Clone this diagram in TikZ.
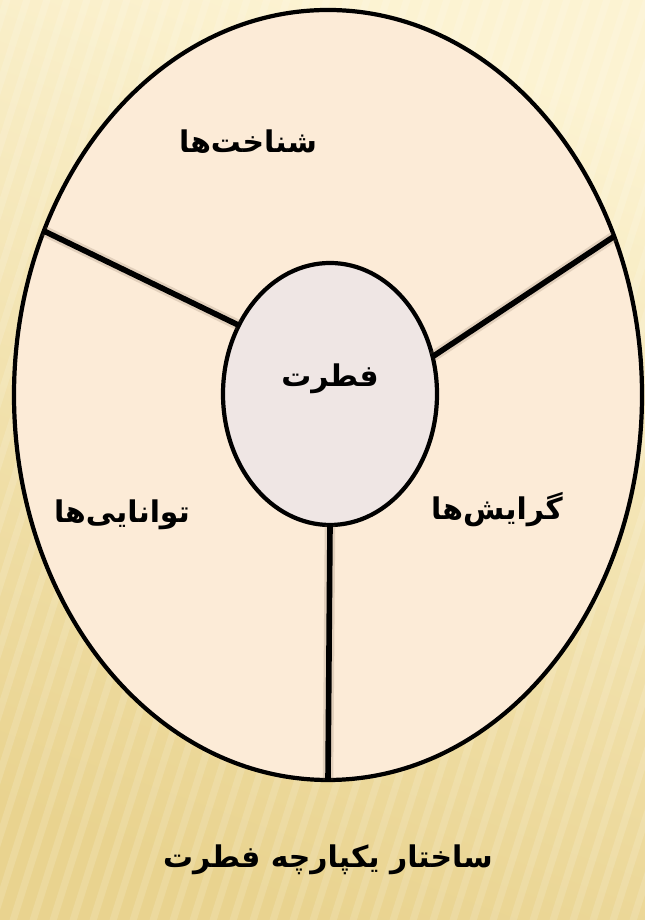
\documentclass[tikz,border=0pt]{standalone}
\usepackage{fontspec}
\newfontfamily\farsi[Script=Arabic]{DejaVu Sans}
\TeXXeTstate=1
\usetikzlibrary{shapes.geometric}

\definecolor{bgtop}{HTML}{FCF3D2}
\definecolor{bgbottom}{HTML}{E9D38F}
\definecolor{wholefill}{HTML}{FCEBD7}
\definecolor{corefill}{HTML}{EFE6E4}
\definecolor{shadowcol}{HTML}{7A6550}

\tikzset{
  farsitext/.style={font=\farsi\bfseries\fontsize{17}{21}\selectfont},
  ring/.style={ellipse, draw, line width=2.4pt, inner sep=0pt, outer sep=0pt},
  spoke/.style={line width=3.2pt},
  spokeshadow/.style={line width=6pt, shadowcol, opacity=0.2}
}

\begin{document}
\begin{tikzpicture}
\useasboundingbox (0,0) rectangle (12.88,18.4);
% background
\shade[top color=bgtop, bottom color=bgbottom, shading angle=-20] (-0.2,-0.2) rectangle (13.1,18.6);
\begin{scope}
\clip (-0.2,-0.2) rectangle (13.1,18.6);
\foreach \x in {-7,-6.6,...,13.4}
  \draw[white, opacity=0.14, line width=4pt] (\x,-0.2) -- ++(6,18.8);
\end{scope}

\node[ring, fill=wholefill, minimum width=12.56cm, minimum height=15.4cm] (whole) at (6.56,10.5) {};
\node[ring, fill=corefill, minimum width=4.28cm, minimum height=5.24cm] (core) at (6.6,10.52) {};

% spokes
\draw[spokeshadow, shift={(0.04,-0.1)}] (core.143.5) -- (whole.150.8);
\draw[spokeshadow, shift={(0.04,-0.1)}] (core.20.2) -- (whole.29);
\draw[spokeshadow, shift={(0.06,-0.03)}] (core.270) -- (whole.270);
\draw[spoke] (core.143.5) -- (whole.150.8);
\draw[spoke] (core.20.2) -- (whole.29);
\draw[spoke] (core.270) -- (whole.270);

\node[farsitext] (insight) at (4.96,15.56) {\beginR شناخت‌ها\endR};
\node[farsitext] (nature) at (6.6,10.82) {\beginR فطرت\endR};
\node[farsitext] (abilities) at (2.44,8.1) {\beginR توانایی‌ها\endR};
\node[farsitext] (tendencies) at (9.94,8.2) {\beginR گرایش‌ها\endR};
\node[farsitext] (title) at (6.56,1.2) {\beginR ساختار یکپارچه فطرت\endR};
\end{tikzpicture}
\end{document}
